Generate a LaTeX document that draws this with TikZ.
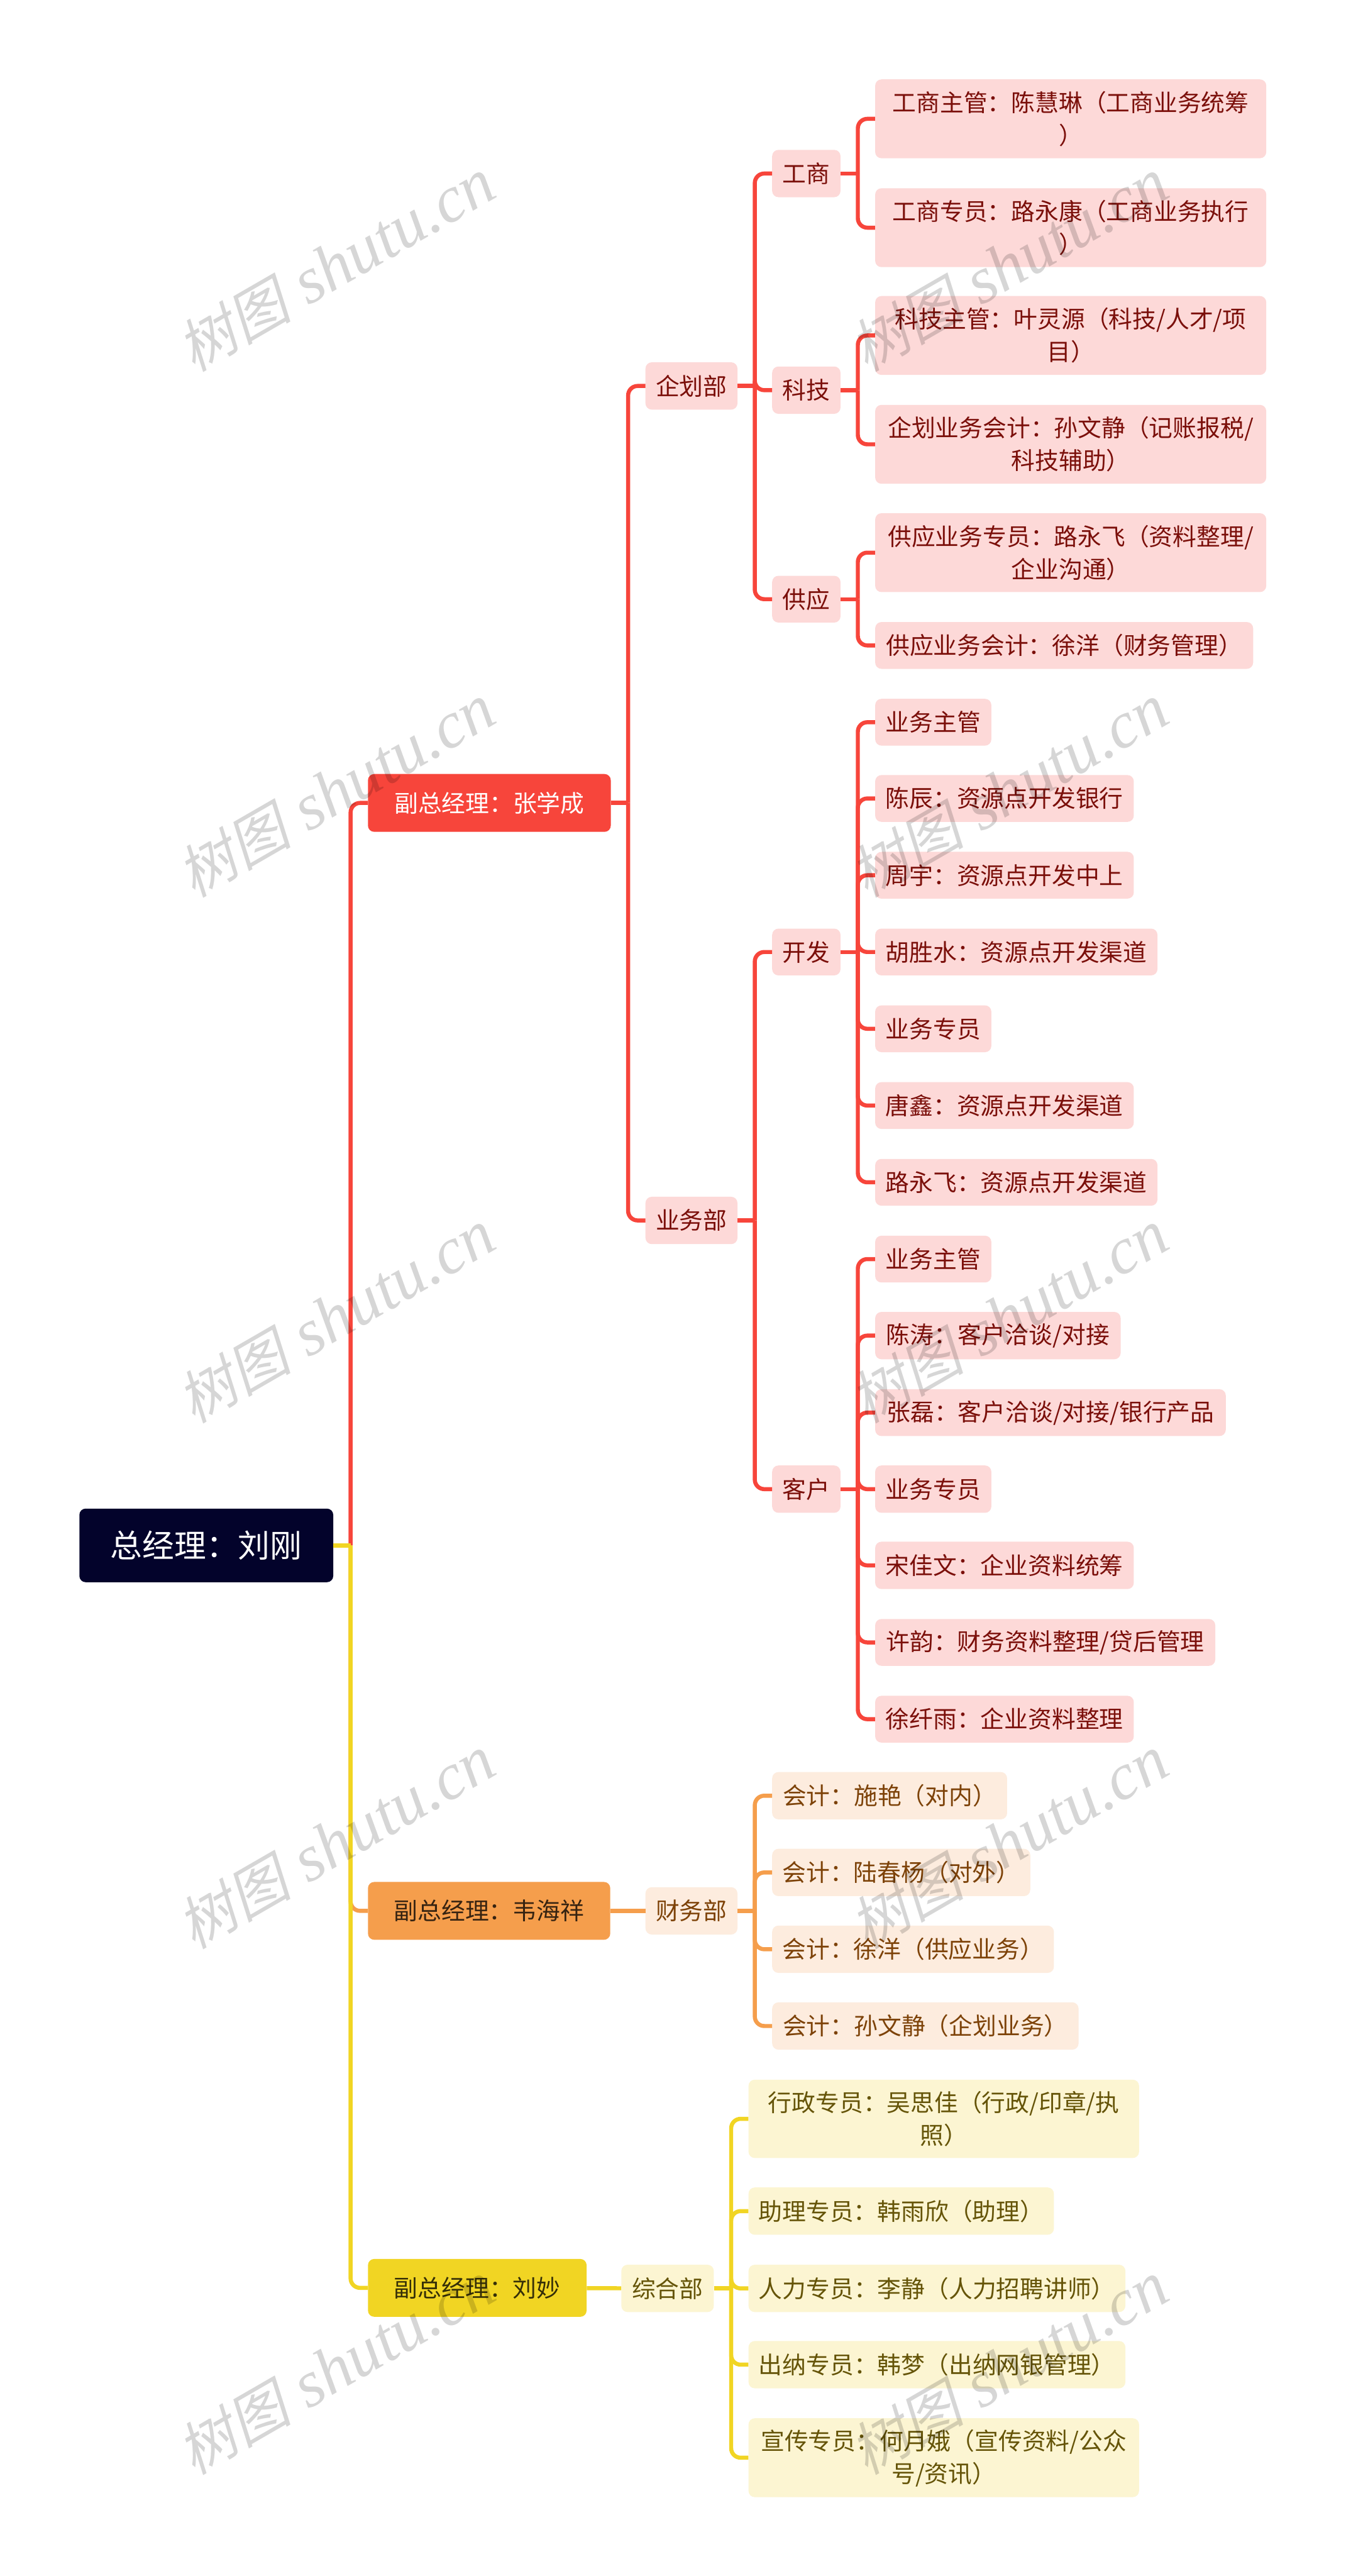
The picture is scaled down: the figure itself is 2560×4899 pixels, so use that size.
\documentclass[tikz,border=0pt]{standalone}
\usepackage{fontspec}
\setmainfont{Noto Sans CJK SC}
\newfontfamily\wmcjk[FakeSlant=0.22]{Noto Sans CJK SC}
\newfontfamily\wmlat{Liberation Serif Italic}
\newcommand{\qcolon}{\char"FF1A\relax}
\newcommand{\qopen}{\char"FF08\relax}
\newcommand{\qclose}{\char"FF09\relax}
\definecolor{cred}{HTML}{F7453B}
\definecolor{corange}{HTML}{F59E4C}
\definecolor{cyellow}{HTML}{F1D523}
\definecolor{croot}{HTML}{03032B}
\definecolor{lred}{HTML}{FDD9D8}
\definecolor{lorange}{HTML}{FDECDE}
\definecolor{lyellow}{HTML}{FCF5D2}
\definecolor{tred}{HTML}{7B0F0A}
\definecolor{torange}{HTML}{7D4208}
\definecolor{tyellow}{HTML}{655408}
\newcommand{\lstr}{\rule[-0.12em]{0pt}{1em}}
\tikzset{
  x=0.75pt,y=-0.75pt,
  base/.style={rounded corners=9pt,inner sep=0pt,align=center,font=\fontsize{33.9}{46.5}\selectfont},
  rootbox/.style={base,fill=croot,text=white,font=\fontsize{45.5}{60}\selectfont},
  vpred/.style={base,fill=cred,text=white},
  vporange/.style={base,fill=corange,text=black!78!corange},
  vpyellow/.style={base,fill=cyellow,text=black!78!cyellow},
  lfred/.style={base,fill=lred,text=tred},
  lforange/.style={base,fill=lorange,text=torange},
  lfyellow/.style={base,fill=lyellow,text=tyellow},
  link/.style={line width=5.8pt,rounded corners=13.5pt},
  lred/.style={link,draw=cred},
  lorange/.style={link,draw=corange},
  lyellow/.style={link,draw=cyellow},
  wm/.style={rotate=30,text=black,text opacity=0.16,inner sep=0pt}
}
% style, name, x0, y0, x1, y1, text
\newcommand{\nbox}[7]{\node[#1,minimum width={(#5-#3)*0.75pt},minimum height={(#6-#4)*0.75pt}] (#2) at ({(#3+#5)/2},{(#4+#6)/2}) {\lstr #7\lstr};}
% colour style, parent, junction x, children
\newcommand{\stub}[3]{\coordinate (#2j) at (#3,0 |- #2.east); \draw[#1] (#2.east) -- (#2j);}
\newcommand{\kids}[3]{\foreach \c in {#3}{\draw[#1] (#2j) |- (\c.west);}}
\begin{document}
\begin{tikzpicture}
\useasboundingbox (0,0) rectangle (2560,4899);
\fill[white] (0,0) rectangle (2560,4899);

\nbox{rootbox}{root}{151}{2869}{634}{3009}{总经理\qcolon 刘刚}
\nbox{vpred}{vpa}{700}{1472}{1162}{1582}{副总经理\qcolon 张学成}
\nbox{vporange}{vpb}{700}{3579}{1161}{3689}{副总经理\qcolon 韦海祥}
\nbox{vpyellow}{vpc}{700}{4296}{1116}{4406}{副总经理\qcolon 刘妙}

\nbox{lfred}{qh}{1228}{689}{1403}{779}{企划部}
\nbox{lfred}{yw}{1228}{2276}{1403}{2366}{业务部}
\nbox{lforange}{cw}{1228}{3589}{1403}{3679}{财务部}
\nbox{lfyellow}{zh}{1182}{4307}{1358}{4397}{综合部}

\nbox{lfred}{gs}{1469}{285}{1599}{375}{工商}
\nbox{lfred}{kj}{1469}{697}{1599}{787}{科技}
\nbox{lfred}{gy}{1469}{1095}{1599}{1184}{供应}
\nbox{lfred}{kf}{1469}{1766}{1599}{1855}{开发}
\nbox{lfred}{kh}{1469}{2787}{1599}{2877}{客户}

\nbox{lfred}{a1}{1665}{151}{2409}{301}{工商主管\qcolon 陈慧琳\qopen 工商业务统筹\\\qclose}
\nbox{lfred}{a2}{1665}{358}{2409}{508}{工商专员\qcolon 路永康\qopen 工商业务执行\\\qclose}
\nbox{lfred}{b1}{1665}{563}{2409}{713}{科技主管\qcolon 叶灵源\qopen 科技/人才/项\\目\qclose}
\nbox{lfred}{b2}{1665}{770}{2409}{920}{企划业务会计\qcolon 孙文静\qopen 记账报税/\\科技辅助\qclose}
\nbox{lfred}{c1}{1665}{976}{2409}{1126}{供应业务专员\qcolon 路永飞\qopen 资料整理/\\企业沟通\qclose}
\nbox{lfred}{c2}{1665}{1183}{2384}{1272}{供应业务会计\qcolon 徐洋\qopen 财务管理\qclose}

\nbox{lfred}{d1}{1665}{1329}{1886}{1418}{业务主管}
\nbox{lfred}{d2}{1665}{1474}{2157}{1563}{陈辰\qcolon 资源点开发银行}
\nbox{lfred}{d3}{1665}{1620}{2157}{1709}{周宇\qcolon 资源点开发中上}
\nbox{lfred}{d4}{1665}{1766}{2202}{1855}{胡胜水\qcolon 资源点开发渠道}
\nbox{lfred}{d5}{1665}{1912}{1886}{2001}{业务专员}
\nbox{lfred}{d6}{1665}{2058}{2157}{2147}{唐鑫\qcolon 资源点开发渠道}
\nbox{lfred}{d7}{1665}{2204}{2202}{2293}{路永飞\qcolon 资源点开发渠道}

\nbox{lfred}{e1}{1665}{2350}{1886}{2439}{业务主管}
\nbox{lfred}{e2}{1665}{2495}{2132}{2585}{陈涛\qcolon 客户洽谈/对接}
\nbox{lfred}{e3}{1665}{2642}{2332}{2731}{张磊\qcolon 客户洽谈/对接/银行产品}
\nbox{lfred}{e4}{1665}{2787}{1886}{2877}{业务专员}
\nbox{lfred}{e5}{1665}{2932}{2157}{3022}{宋佳文\qcolon 企业资料统筹}
\nbox{lfred}{e6}{1665}{3079}{2312}{3168}{许韵\qcolon 财务资料整理/贷后管理}
\nbox{lfred}{e7}{1665}{3225}{2157}{3314}{徐纤雨\qcolon 企业资料整理}

\nbox{lforange}{f1}{1469}{3370}{1916}{3460}{会计\qcolon 施艳\qopen 对内\qclose}
\nbox{lforange}{f2}{1469}{3516}{1960}{3606}{会计\qcolon 陆春杨\qopen 对外\qclose}
\nbox{lforange}{f3}{1469}{3662}{2005}{3752}{会计\qcolon 徐洋\qopen 供应业务\qclose}
\nbox{lforange}{f4}{1469}{3808}{2052}{3898}{会计\qcolon 孙文静\qopen 企划业务\qclose}

\nbox{lfyellow}{g1}{1424}{3955}{2167}{4104}{行政专员\qcolon 吴思佳\qopen 行政/印章/执\\照\qclose}
\nbox{lfyellow}{g2}{1424}{4160}{2005}{4250}{助理专员\qcolon 韩雨欣\qopen 助理\qclose}
\nbox{lfyellow}{g3}{1424}{4307}{2141}{4397}{人力专员\qcolon 李静\qopen 人力招聘讲师\qclose}
\nbox{lfyellow}{g4}{1424}{4452}{2141}{4542}{出纳专员\qcolon 韩梦\qopen 出纳网银管理\qclose}
\nbox{lfyellow}{g5}{1424}{4599}{2167}{4749}{宣传专员\qcolon 何月娥\qopen 宣传资料/公众\\号/资讯\qclose}

% connectors
\stub{lred}{vpa}{1195}\kids{lred}{vpa}{qh,yw}
\stub{lred}{qh}{1436}\kids{lred}{qh}{gs,kj,gy}
\stub{lred}{yw}{1436}\kids{lred}{yw}{kf,kh}
\stub{lred}{gs}{1632}\kids{lred}{gs}{a1,a2}
\stub{lred}{kj}{1632}\kids{lred}{kj}{b1,b2}
\stub{lred}{gy}{1632}\kids{lred}{gy}{c1,c2}
\stub{lred}{kf}{1632}\kids{lred}{kf}{d1,d2,d3,d4,d5,d6,d7}
\stub{lred}{kh}{1632}\kids{lred}{kh}{e1,e2,e3,e4,e5,e6,e7}
\stub{lorange}{cw}{1436}\kids{lorange}{cw}{f1,f2,f3,f4}
\stub{lyellow}{zh}{1391}\kids{lyellow}{zh}{g1,g2,g3,g4,g5}
\draw[lorange] (vpb) -- (cw);
\draw[lyellow] (vpc) -- (zh);
\stub{lyellow}{root}{667}
\kids{lred}{root}{vpa}
\kids{lorange}{root}{vpb}
\kids{lyellow}{root}{vpc}
\draw[lyellow] (root.east) -- (rootj);

% watermark
\foreach \wy in {504,1504,2504,3504,4504}{
  \foreach \wx in {639,1919}{
    \node[wm] (wm\wx\wy) at (\wx,\wy) {\fontsize{82}{96}\selectfont\wmcjk 树图\kern 0.3em\fontsize{94}{96}\selectfont\wmlat shutu.cn};
  }
}
\end{tikzpicture}
\end{document}
